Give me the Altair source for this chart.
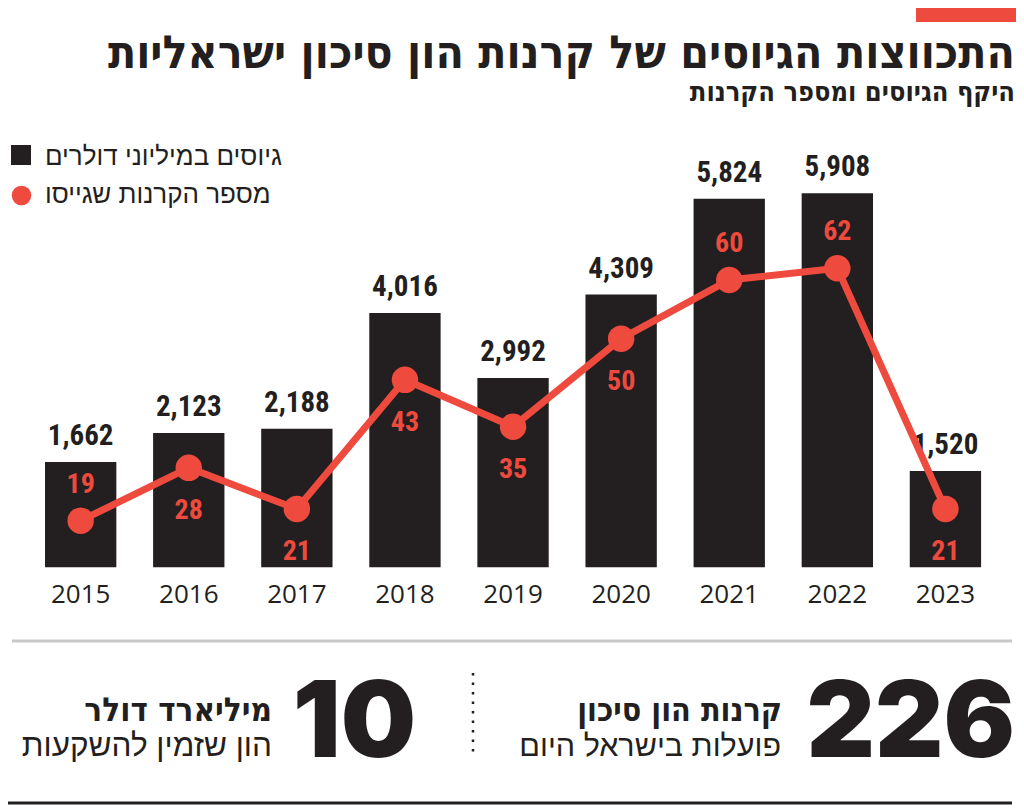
import altair as alt
import pandas as pd

# ---- data ----
years = ["2015", "2016", "2017", "2018", "2019", "2020", "2021", "2022", "2023"]
raised_musd = [1662, 2123, 2188, 4016, 2992, 4309, 5824, 5908, 1520]
funds_count = [19, 28, 21, 43, 35, 50, 60, 62, 21]
count_label_side = ["above", "below", "below", "below", "below", "below", "above", "above", "below"]

title_text = "התכווצות הגיוסים של קרנות הון סיכון ישראליות"
subtitle_text = "היקף הגיוסים ומספר הקרנות"
legend_bars = "גיוסים במיליוני דולרים"
legend_dots = "מספר הקרנות שגייסו"
stat1_value = "226"
stat1_head = "קרנות הון סיכון"
stat1_sub = "פועלות בישראל היום"
stat2_value = "10"
stat2_head = "מיליארד דולר"
stat2_sub = "הון שזמין להשקעות"

BLACK = "#231f20"
RED = "#ef4a3e"
GRAY = "#c8c8c8"
HEB_BOLD = "DejaVu Sans Condensed"
HEB_REG = "Liberation Sans"
NUM_FONT = "Roboto Condensed, Open Sans Condensed, Noto Sans Condensed, Liberation Sans Narrow, DejaVu Sans Condensed"

df = pd.DataFrame({
    "year": years,
    "raised": raised_musd,
    "raised_label": [f"{v:,}" for v in raised_musd],
    "funds": funds_count,
    "side": count_label_side,
})

one = pd.DataFrame({"k": [0]})

xenc = alt.X("year:O", scale=alt.Scale(range=[37, 973.1], paddingInner=0.34, paddingOuter=0), axis=None)
ybar = alt.Y("raised:Q", scale=alt.Scale(domain=[0, 6000], range=[559.3, 179.5], nice=False, zero=True), axis=None)
yline = alt.Y("funds:Q", scale=alt.Scale(domain=[0, 70], range=[624.2, 213.3], nice=False, zero=True), axis=None)

base = alt.Chart(df)

bars = base.mark_bar(color=BLACK).encode(x=xenc, y=ybar)
bar_labels = base.mark_text(font=NUM_FONT, fontWeight="bold", fontSize=29, color=BLACK,
                            baseline="alphabetic", dy=-17).encode(x=xenc, y=ybar, text="raised_label:N")

line = base.mark_line(color=RED, strokeWidth=7).encode(x=xenc, y=yline)
dots = base.mark_circle(color=RED, opacity=1, size=700).encode(x=xenc, y=yline)
lab_above = base.transform_filter(alt.datum.side == "above").mark_text(
    font=NUM_FONT, fontWeight="bold", fontSize=28, color=RED, baseline="middle", dy=-36
).encode(x=xenc, y=yline, text="funds:Q")
lab_below = base.transform_filter(alt.datum.side == "below").mark_text(
    font=NUM_FONT, fontWeight="bold", fontSize=28, color=RED, baseline="middle", dy=43
).encode(x=xenc, y=yline, text="funds:Q")

year_labels = base.mark_text(font="Open Sans", fontSize=26, color=BLACK, baseline="middle").encode(
    x=xenc, y=alt.value(586.7), text="year:N")


def txt(text, x, y, size, font, weight="normal", align="right", color=BLACK, baseline="alphabetic"):
    return alt.Chart(one).mark_text(text=text, font=font, fontSize=size, fontWeight=weight,
                                    align=align, baseline=baseline, color=color).encode(
        x=alt.value(x), y=alt.value(y))


top_bar = alt.Chart(one).mark_rect(color=RED).encode(
    x=alt.value(908), x2=alt.value(1008), y=alt.value(0), y2=alt.value(14))
title = txt(title_text, 1007, 60, 46, HEB_BOLD, "bold")
subtitle = txt(subtitle_text, 1007, 93, 27, HEB_BOLD, "bold")

leg_sq = alt.Chart(one).mark_rect(color=BLACK).encode(
    x=alt.value(3), x2=alt.value(23), y=alt.value(137), y2=alt.value(157))
leg_dot = alt.Chart(one).mark_circle(color=RED, opacity=1, size=380).encode(
    x=alt.value(13.5), y=alt.value(187.5))
leg_t1 = txt(legend_bars, 37, 157, 26, HEB_REG, align="left")
leg_t2 = txt(legend_dots, 37, 195, 26, HEB_REG, align="left")

gray_rule = alt.Chart(one).mark_rule(color=GRAY, strokeWidth=3).encode(
    x=alt.value(4), x2=alt.value(1004), y=alt.value(633))
black_rule = alt.Chart(one).mark_rule(color=BLACK, strokeWidth=3).encode(
    x=alt.value(0), x2=alt.value(1004), y=alt.value(795))
dotted = alt.Chart(one).mark_rule(color=BLACK, strokeWidth=2.5, strokeDash=[2.5, 7]).encode(
    x=alt.value(465), y=alt.value(665), y2=alt.value(750))

s1v = txt(stat1_value, 1007, 749, 106, "Inter", 900)
s1h = txt(stat1_head, 774, 713, 32, HEB_BOLD, "bold")
s1s = txt(stat1_sub, 773, 748, 30.5, HEB_REG)
s2v = txt(stat2_value, 408, 749, 106, "Inter", 900)
s2h = txt(stat2_head, 264, 713, 33, HEB_BOLD, "bold")
s2s = txt(stat2_sub, 264, 748, 31.5, HEB_REG)

chart = alt.layer(
    bars, bar_labels, line, dots, lab_above, lab_below, year_labels,
    top_bar, title, subtitle, leg_sq, leg_dot, leg_t1, leg_t2,
    gray_rule, black_rule, dotted, s1v, s1h, s1s, s2v, s2h, s2s,
).resolve_scale(y="independent").properties(
    width=1008, height=797, padding=0,
    autosize=alt.AutoSizeParams(type="none"),
    background="white",
).configure_view(stroke=None)

chart.save("out.html", embed_options={"renderer": "svg", "actions": False})
